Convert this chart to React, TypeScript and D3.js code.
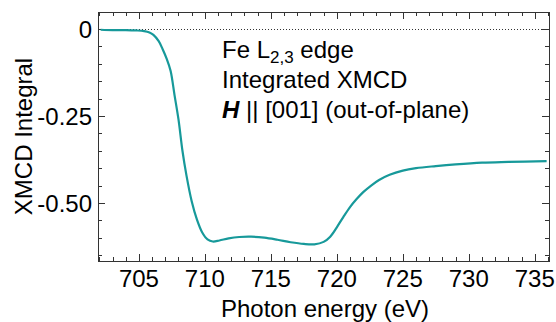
import * as d3 from 'd3';
import { useEffect, useRef } from 'react';

// photon energy (eV) and integrated XMCD
const energy = [
  702.1, 703, 704, 704.8, 705.4, 705.8, 706.1, 706.5, 706.8, 707.1, 707.4, 707.7,
  708.0, 708.3, 708.6, 709.0, 709.4, 709.8, 710.2, 710.6, 711.1, 711.8, 712.6,
  713.5, 714.5, 715.5, 716.5, 717.5, 718.3, 719.0, 719.5, 720.0, 720.5, 721.0,
  721.5, 722.0, 722.6, 723.2, 724.0, 725.0, 726.0, 727.5, 729.0, 731.0, 733.0, 735.9,
];
const xmcdIntegral = [
  -0.002, -0.003, -0.003, -0.004, -0.006, -0.01, -0.017, -0.035, -0.058, -0.085,
  -0.12, -0.19, -0.26, -0.35, -0.42, -0.495, -0.548, -0.585, -0.605, -0.611,
  -0.608, -0.602, -0.598, -0.597, -0.6, -0.606, -0.613, -0.618, -0.619, -0.612,
  -0.597, -0.57, -0.54, -0.512, -0.489, -0.469, -0.45, -0.434, -0.419, -0.407,
  -0.4, -0.394, -0.389, -0.384, -0.382, -0.38,
];
const xTicks = [705, 710, 715, 720, 725, 730, 735];
const yTicks = [0, -0.25, -0.5];
const yTickLabels = ['0', '-0.25', '-0.50'];
const xTitle = 'Photon energy (eV)';
const yTitle = 'XMCD Integral';

const App = () => {
  const svgRef = useRef<SVGSVGElement>(null);

  useEffect(() => {
    const width = 556;
    const height = 322;
    const marginLeft = 98;
    const marginRight = 7;
    const marginTop = 12;
    const marginBottom = 61;
    const axisColor = '#333';
    const lineColor = '#17999a';
    const font = "'Liberation Sans', Arial, sans-serif";

    const x = d3.scaleLinear([701.9, 736.08], [marginLeft, width - marginRight]);
    const y = d3.scaleLinear([-0.667, 0.049], [height - marginBottom, marginTop]);

    const svg = d3.select(svgRef.current);
    svg.selectAll('*').remove();

    const x0 = marginLeft;
    const x1 = width - marginRight;
    const y0 = height - marginBottom;
    const y1 = marginTop;

    // minor / major ticks, all pointing inward, on every side
    const xMinor = d3.range(702, 737, 1);
    const yMinor = d3.range(-0.65, 0.05, 0.05).map((d) => +d.toFixed(2));

    const tickG = svg.append('g').attr('stroke', axisColor).attr('stroke-width', 1);
    xMinor.forEach((d) => {
      const len = d % 5 === 0 ? 7 : 4;
      const px = Math.round(x(d)) + 0.5;
      tickG.append('line').attr('x1', px).attr('x2', px).attr('y1', y0).attr('y2', y0 - len);
      tickG.append('line').attr('x1', px).attr('x2', px).attr('y1', y1).attr('y2', y1 + len);
    });
    yMinor.forEach((d) => {
      const major = Math.abs(Math.round(d * 4) - d * 4) < 1e-6;
      const len = major ? 7 : 4;
      const py = Math.round(y(d)) + 0.5;
      tickG.append('line').attr('x1', x0).attr('x2', x0 + len).attr('y1', py).attr('y2', py);
      tickG.append('line').attr('x1', x1).attr('x2', x1 - len).attr('y1', py).attr('y2', py);
    });

    // dotted zero line
    svg
      .append('line')
      .attr('x1', x0 + 2)
      .attr('x2', x1)
      .attr('y1', Math.round(y(0)) + 0.5)
      .attr('y2', Math.round(y(0)) + 0.5)
      .attr('stroke', axisColor)
      .attr('stroke-width', 1)
      .attr('stroke-dasharray', '1,2');

    // curve
    const line = d3
      .line<number>()
      .curve(d3.curveCatmullRom.alpha(0.5))
      .x((i) => x(energy[i]))
      .y((i) => y(xmcdIntegral[i]));
    svg
      .append('path')
      .attr('fill', 'none')
      .attr('stroke', lineColor)
      .attr('stroke-width', 2.2)
      .attr('d', line(d3.range(energy.length)));

    // frame
    svg
      .append('rect')
      .attr('x', x0 + 0.5)
      .attr('y', y1 + 0.5)
      .attr('width', x1 - x0)
      .attr('height', y0 - y1)
      .attr('fill', 'none')
      .attr('stroke', axisColor)
      .attr('stroke-width', 1);

    // tick labels
    svg
      .append('g')
      .selectAll('text')
      .data(xTicks)
      .join('text')
      .attr('x', (d) => x(d))
      .attr('y', 287)
      .attr('text-anchor', 'middle')
      .attr('font-family', font)
      .attr('font-size', 24)
      .attr('fill', '#000')
      .text((d) => d);
    svg
      .append('g')
      .selectAll('text')
      .data(yTicks)
      .join('text')
      .attr('x', 92)
      .attr('y', (d) => y(d))
      .attr('dy', '0.36em')
      .attr('text-anchor', 'end')
      .attr('font-family', font)
      .attr('font-size', 24)
      .attr('fill', '#000')
      .text((_, i) => yTickLabels[i]);

    // axis titles
    svg
      .append('text')
      .attr('x', 325)
      .attr('y', 316.5)
      .attr('text-anchor', 'middle')
      .attr('font-family', font)
      .attr('font-size', 24)
      .text(xTitle);
    svg
      .append('text')
      .attr('transform', `translate(32,${(y0 + y1) / 2}) rotate(-90)`)
      .attr('text-anchor', 'middle')
      .attr('font-family', font)
      .attr('font-size', 24)
      .text(yTitle);

    // annotation
    const note = svg
      .append('g')
      .attr('font-family', font)
      .attr('font-size', 24)
      .attr('fill', '#000');
    const t1 = note.append('text').attr('x', 222).attr('y', 57.5);
    t1.append('tspan').text('Fe L');
    t1.append('tspan').attr('font-size', 17).attr('dy', 5).text('2,3');
    t1.append('tspan').attr('dy', -5).text(' edge');
    note.append('text').attr('x', 222).attr('y', 87.5).text('Integrated XMCD');
    const t3 = note.append('text').attr('x', 222).attr('y', 117.5);
    t3.append('tspan').attr('font-weight', 'bold').attr('font-style', 'italic').text('H');
    t3.append('tspan').text(' || [001] (out-of-plane)');
  }, []);

  return (
    <svg
      ref={svgRef}
      width={556}
      height={322}
      style={{ position: 'absolute', left: 0, top: 0, background: '#fff' }}
    />
  );
};

export default App;
